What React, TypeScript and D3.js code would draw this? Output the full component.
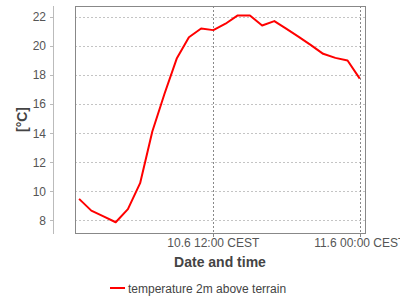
import React from "react";
import * as d3 from "d3";

const hours: number[] = [1, 2, 3, 4, 5, 6, 7, 8, 9, 10, 11, 12, 13, 14, 15, 16, 17, 18, 19, 20, 21, 22, 23, 24];
const temperature: number[] = [
  9.47, 8.66, 8.26, 7.86, 8.76, 10.55, 14.1, 16.7, 19.12, 20.59, 21.19, 21.08,
  21.52, 22.09, 22.09, 21.4, 21.7, 21.16, 20.62, 20.05, 19.45, 19.17, 18.99, 17.74,
];
const xTickHours: number[] = [12, 24];
const xTickLabels: string[] = ["10.6 12:00 CEST", "11.6 00:00 CEST"];
const yTicks: number[] = [8, 10, 12, 14, 16, 18, 20, 22];
const seriesName = "temperature 2m above terrain";

const W = 400;
const H = 300;
const plot = { left: 75, right: 365, top: 6, bottom: 233 };
const FONT = "'Liberation Sans', Arial, sans-serif";

export default function App() {
  const base = new Date(2014, 5, 10, 0, 0, 0);
  const toDate = (h: number) => new Date(base.getTime() + h * 3600 * 1000);
  const x = d3
    .scaleTime()
    .domain([toDate(0.664), toDate(24.43)])
    .range([plot.left, plot.right]);
  const y = d3.scaleLinear().domain([7.12, 22.74]).range([plot.bottom, plot.top]);

  const line = d3
    .line<number>()
    .x((_, i) => x(toDate(hours[i])))
    .y((d) => y(d));

  const axisX = 53;

  return (
    <div style={{ position: "fixed", left: 0, top: 0, width: W, height: H, background: "#fff" }}>
      <svg width={W} height={H} style={{ display: "block" }} fontFamily={FONT}>
        <rect x={0} y={0} width={W} height={H} fill="#fff" />
        {/* horizontal grid */}
        {yTicks.map((t) => (
          <line
            key={"hg" + t}
            x1={plot.left}
            x2={plot.right}
            y1={Math.round(y(t)) + 0.5}
            y2={Math.round(y(t)) + 0.5}
            stroke="#c4c4c4"
            strokeWidth={1}
            strokeDasharray="2,2"
          />
        ))}
        {/* vertical grid */}
        {xTickHours.map((h) => (
          <line
            key={"vg" + h}
            x1={Math.round(x(toDate(h))) + 0.5}
            x2={Math.round(x(toDate(h))) + 0.5}
            y1={plot.top}
            y2={plot.bottom}
            stroke="#888"
            strokeWidth={1}
            strokeDasharray="2,2"
          />
        ))}
        {/* plot border */}
        <rect
          x={plot.left + 0.5}
          y={plot.top + 0.5}
          width={plot.right - plot.left}
          height={plot.bottom - plot.top}
          fill="none"
          stroke="#888"
          strokeWidth={1}
        />
        {/* series */}
        <path d={line(temperature) || ""} fill="none" stroke="#ff0000" strokeWidth={2} strokeLinejoin="round" />
        {/* y axis */}
        <line x1={axisX + 0.5} x2={axisX + 0.5} y1={plot.top} y2={plot.bottom + 1} stroke="#bbb" strokeWidth={1} />
        {yTicks.map((t) => (
          <g key={"yt" + t}>
            <line
              x1={axisX - 3}
              x2={axisX}
              y1={Math.round(y(t)) + 0.5}
              y2={Math.round(y(t)) + 0.5}
              stroke="#bbb"
            />
            <text x={46} y={y(t) + 4.5} textAnchor="end" fontSize={12} fill="#555">
              {t}
            </text>
          </g>
        ))}
        {/* x axis ticks */}
        {xTickHours.map((h, i) => (
          <g key={"xt" + h}>
            <line
              x1={Math.round(x(toDate(h))) + 0.5}
              x2={Math.round(x(toDate(h))) + 0.5}
              y1={plot.bottom + 1}
              y2={plot.bottom + 4}
              stroke="#888"
            />
            <text x={x(toDate(h))} y={247} textAnchor="middle" fontSize={12} fill="#555">
              {xTickLabels[i]}
            </text>
          </g>
        ))}
        {/* axis titles */}
        <text
          x={(plot.left + plot.right) / 2}
          y={266.5}
          textAnchor="middle"
          fontSize={14}
          fontWeight="bold"
          fill="#444"
        >
          Date and time
        </text>
        <text
          transform={`translate(26.5, ${(plot.top + plot.bottom) / 2}) rotate(-90)`}
          textAnchor="middle"
          fontSize={14}
          fontWeight="bold"
          fill="#444"
        >
          [°C]
        </text>
        {/* legend */}
        <line x1={110} x2={125} y1={288} y2={288} stroke="#ff0000" strokeWidth={2} />
        <text x={128} y={292.5} fontSize={12} fill="#444">
          {seriesName}
        </text>
      </svg>
    </div>
  );
}
